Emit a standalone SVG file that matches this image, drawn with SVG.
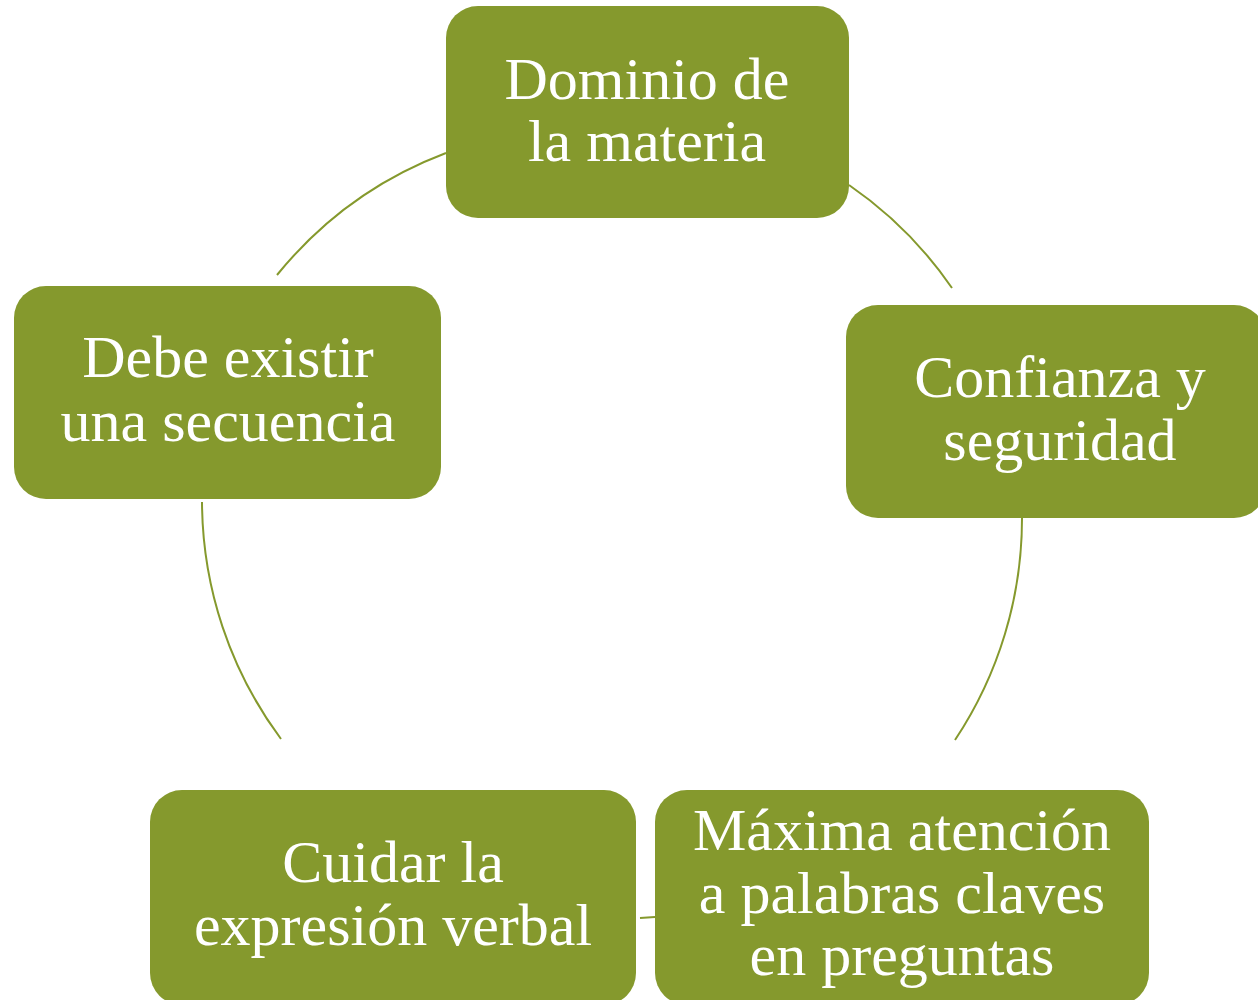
<svg xmlns="http://www.w3.org/2000/svg" width="1258" height="1000" viewBox="0 0 1258 1000">
<style>
.box{fill:#85992D;}
.lbl{fill:#ffffff;font-family:"Liberation Serif",serif;font-size:60px;text-anchor:middle;}
.arc{fill:none;stroke:#85992D;stroke-width:2;}
</style>
<rect width="1258" height="1000" fill="#ffffff"/>
<g id="connectors">
<path class="arc" d="M277,275 A400,400 0 0 1 446,153"/>
<path class="arc" d="M849,185 A400,400 0 0 1 952,288"/>
<path class="arc" d="M1022,518 A400,400 0 0 1 955,740"/>
<path class="arc" d="M655,917 L640,918"/>
<path class="arc" d="M281,739 A400,400 0 0 1 202,502"/>
</g>
<g id="n1">
<rect class="box" x="446" y="6" width="403" height="212" rx="32"/>
<text class="lbl" x="647" y="99">Dominio de</text>
<text class="lbl" x="647" y="161">la materia</text>
</g>
<g id="n2">
<rect class="box" x="846" y="305" width="420" height="213" rx="32"/>
<text class="lbl" x="1060" y="397">Confianza y</text>
<text class="lbl" x="1060" y="460">seguridad</text>
</g>
<g id="n3">
<rect class="box" x="655" y="790" width="494" height="215" rx="32"/>
<text class="lbl" x="902" y="850">Máxima atención</text>
<text class="lbl" x="902" y="913">a palabras claves</text>
<text class="lbl" x="902" y="975">en preguntas</text>
</g>
<g id="n4">
<rect class="box" x="150" y="790" width="486" height="215" rx="32"/>
<text class="lbl" x="393" y="882">Cuidar la</text>
<text class="lbl" x="393" y="945">expresión verbal</text>
</g>
<g id="n5">
<rect class="box" x="14" y="286" width="427" height="213" rx="32"/>
<text class="lbl" x="228" y="377">Debe existir</text>
<text class="lbl" x="228" y="441">una secuencia</text>
</g>
</svg>
